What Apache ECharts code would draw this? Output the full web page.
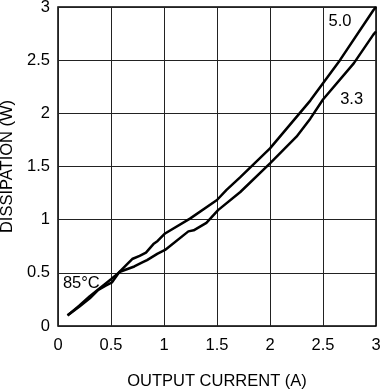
<!DOCTYPE html>
<html><head><meta charset="utf-8">
<script src="https://cdn.jsdelivr.net/npm/echarts@6/dist/echarts.min.js"></script>
<style>html,body{margin:0;padding:0;background:#fff}#c{width:383px;height:389px}</style>
</head><body><div id="c"></div>
<script>
var xTicks = [0, 0.5, 1, 1.5, 2, 2.5, 3];
var yTicks = [0, 0.5, 1, 1.5, 2, 2.5, 3];
var v50 = [[0.09,0.10],[0.2,0.18],[0.3,0.26],[0.38,0.34],[0.45,0.38],[0.51,0.41],[0.58,0.51],[0.65,0.58],[0.7,0.63],[0.77,0.66],[0.83,0.69],[0.9,0.77],[0.94,0.80],[1.01,0.87],[1.245,1.01],[1.5,1.185],[1.59,1.28],[1.72,1.40],[2.0,1.67],[2.38,2.12],[2.66,2.50],[2.975,2.97],[3.0,3.0]];
var v33 = [[0.09,0.10],[0.2,0.19],[0.3,0.28],[0.4,0.36],[0.5,0.44],[0.585,0.51],[0.72,0.56],[0.8,0.60],[0.84,0.62],[0.94,0.68],[1.01,0.715],[1.23,0.89],[1.28,0.90],[1.40,0.97],[1.51,1.09],[1.72,1.26],[2.0,1.53],[2.25,1.78],[2.38,1.95],[2.5,2.13],[2.79,2.47],[2.975,2.74],[3.0,2.77]];
var labels = [{text:'5.0', x:2.66, y:2.86},{text:'3.3', x:2.77, y:2.135},{text:'85°C', x:0.22, y:0.40}];
var font = 'Liberation Sans, Arial, sans-serif';
var FS = 16.5;
var chart = echarts.init(document.getElementById('c'));
chart.setOption({
  animation:false,
  grid:{left:58,right:7,top:7,bottom:63,outerBoundsMode:'none',containLabel:false,show:true,borderColor:'#000',borderWidth:1.5,backgroundColor:'transparent'},
  xAxis:{type:'value',min:xTicks[0],max:xTicks[xTicks.length-1],interval:0.5,
    name:'OUTPUT CURRENT (A)',nameLocation:'middle',nameGap:47,
    nameTextStyle:{color:'#000',fontSize:FS,fontFamily:font},
    axisLine:{show:false},axisTick:{show:false},
    axisLabel:{color:'#000',fontSize:FS,fontFamily:font,margin:11},
    splitLine:{show:true,lineStyle:{color:'#222',width:1}}},
  yAxis:{type:'value',min:yTicks[0],max:yTicks[yTicks.length-1],interval:0.5,
    name:'DISSIPATION (W)',nameLocation:'middle',nameGap:40,
    nameTextStyle:{color:'#000',fontSize:FS,fontFamily:font},
    axisLine:{show:false},axisTick:{show:false},
    axisLabel:{color:'#000',fontSize:FS,fontFamily:font,margin:8},
    splitLine:{show:true,lineStyle:{color:'#222',width:1}}},
  series:[
    {type:'line',data:v50,showSymbol:false,symbol:'none',lineStyle:{color:'#000',width:2.5},
     markPoint:{symbol:'rect',symbolSize:0,silent:true,
       data:labels.map(function(l){return {coord:[l.x,l.y],label:{show:true,formatter:l.text,color:'#000',fontSize:FS,fontFamily:font,position:'inside'}};})}},
    {type:'line',data:v33,showSymbol:false,symbol:'none',lineStyle:{color:'#000',width:2.5}}
  ]
});
</script></body></html>
